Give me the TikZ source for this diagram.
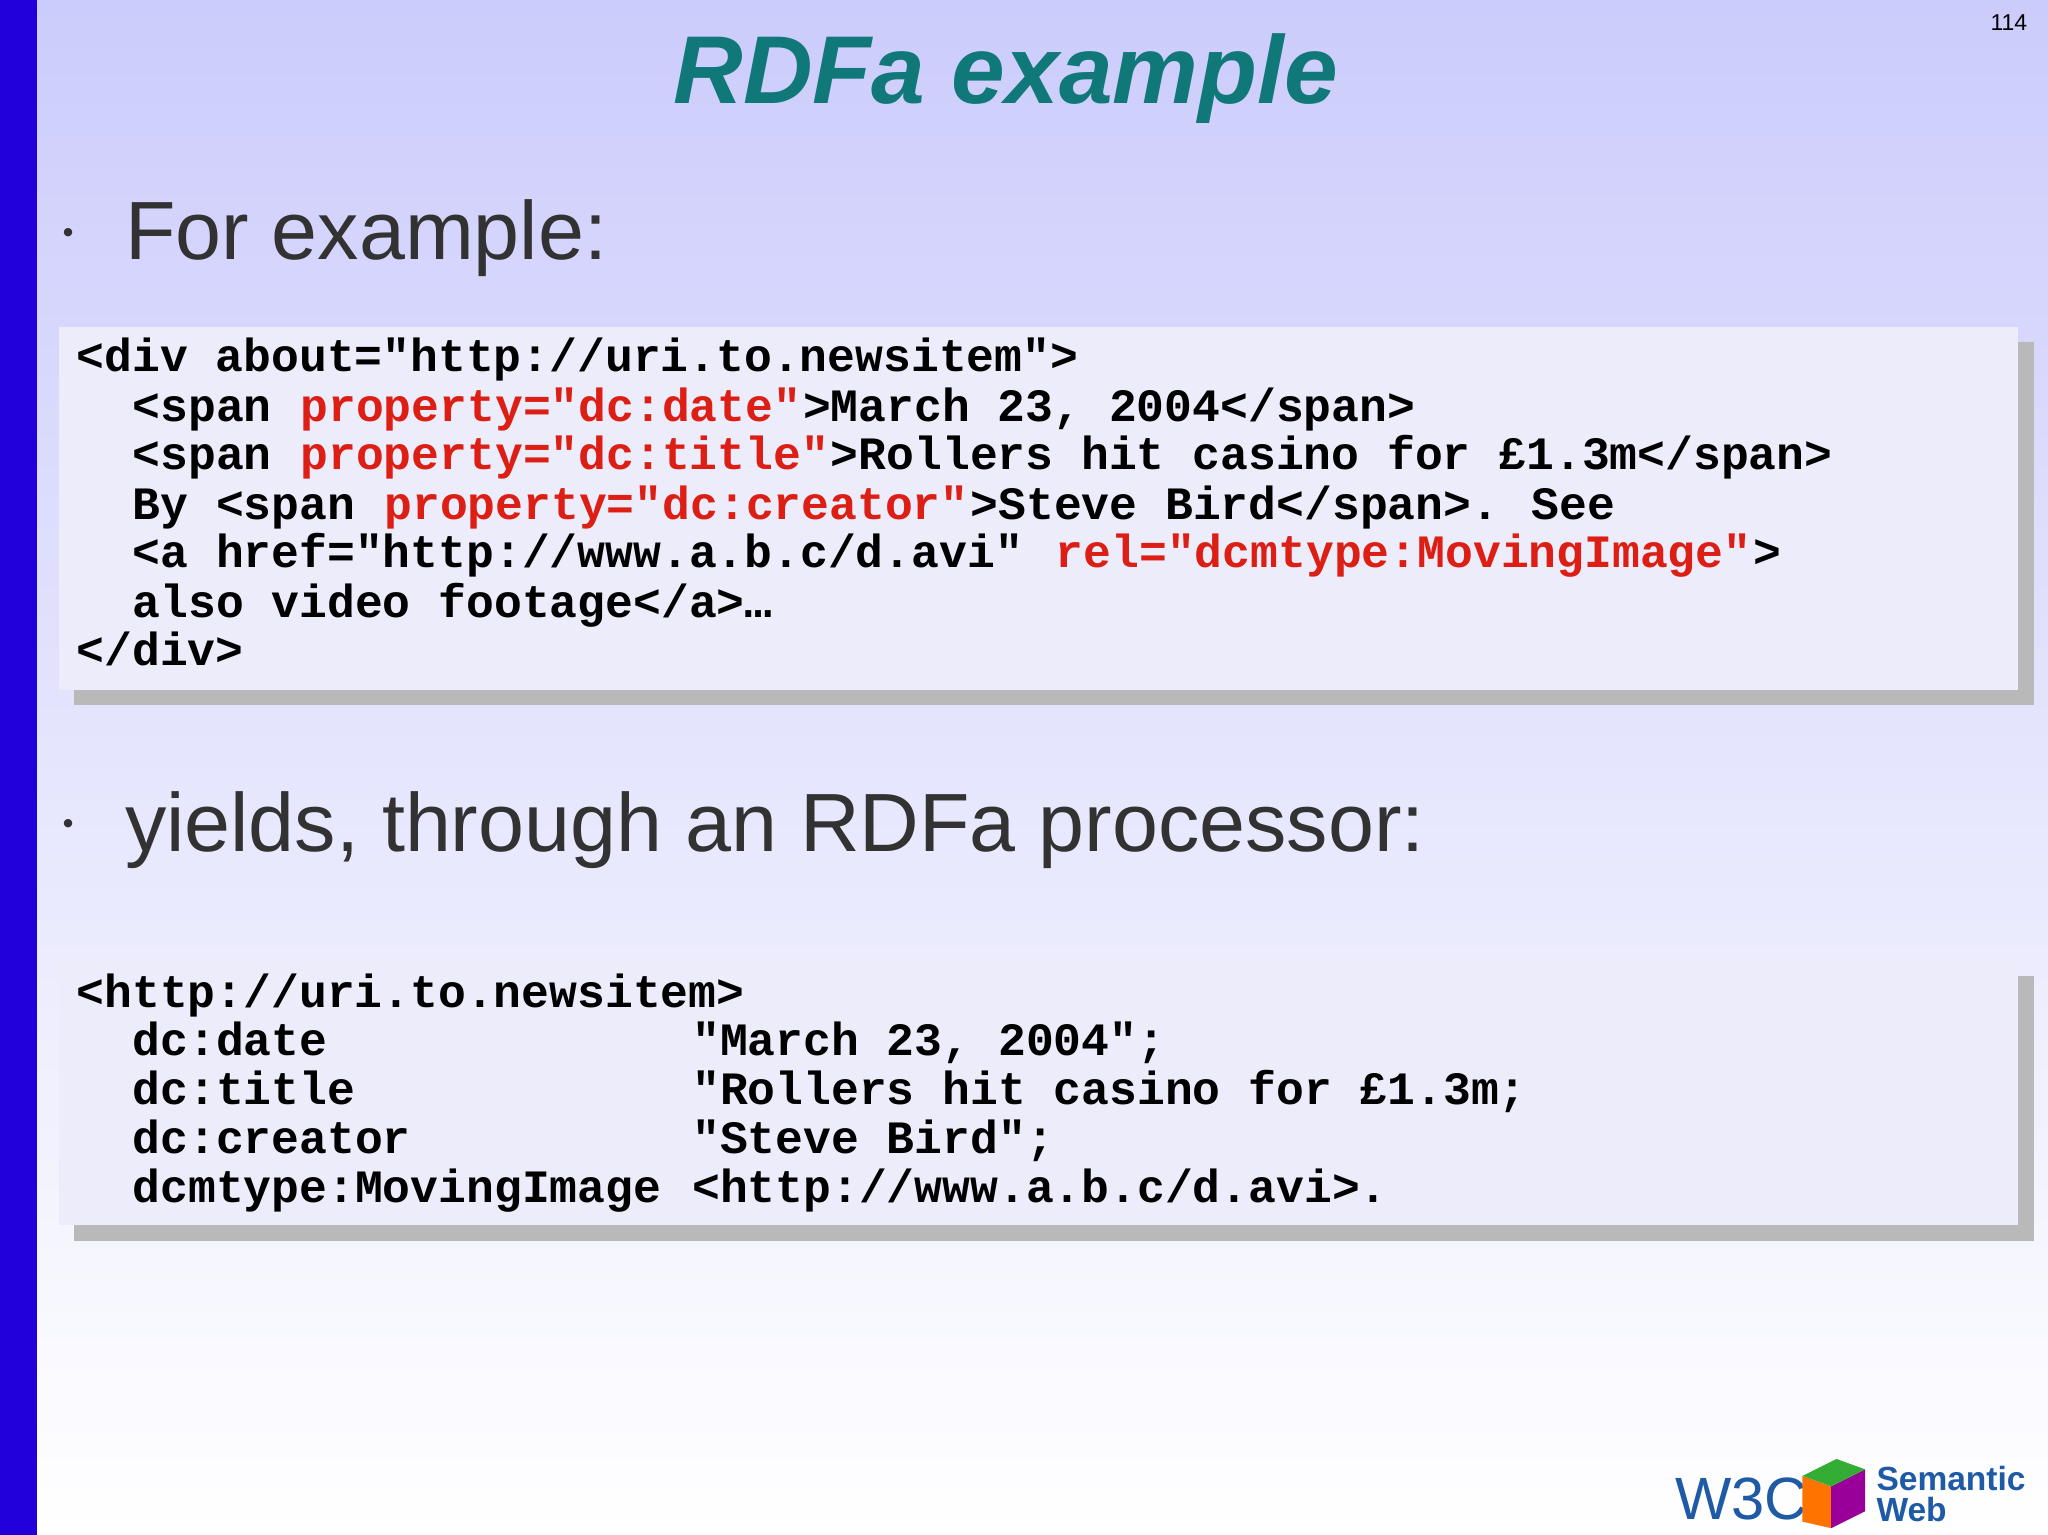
\documentclass[tikz,border=0pt]{standalone}
\usepackage{fontspec}
\setmainfont{Liberation Sans}
\newfontfamily\codefont{Liberation Mono}
\usetikzlibrary{positioning}
\definecolor{titleteal}{RGB}{16,120,120}
\definecolor{codered}{RGB}{220,30,20}
\definecolor{barblue}{RGB}{34,0,220}
\definecolor{boxfill}{RGB}{236,236,250}
\definecolor{w3blue}{RGB}{30,90,165}
\tikzset{
  code/.style={inner sep=0pt, anchor=west, text height=0.26cm, text depth=0.07cm,
    font=\codefont\fontsize{10.1pt}{12pt}\bfseries\selectfont},
  red/.style={code, text=codered},
  seg/.style={code, right=0pt of #1},
  bullet/.style={anchor=base west, inner sep=0pt, text={rgb,255:red,50;green,50;blue,50},
    font=\fontsize{18pt}{21pt}\selectfont}
}
\newcommand{\col}[1]{0.58+#1*0.2142}
\begin{document}
\begin{tikzpicture}
  \useasboundingbox (0,0) rectangle (15.68,11.75);
  % background
  \shade[top color={rgb,255:red,204;green,204;blue,252}, bottom color=white] (0,0) rectangle (15.68,11.75);
  \fill[barblue] (0,0) rectangle (0.28,11.75);
  \node (num) [font=\fontsize{5pt}{6pt}\selectfont] at (15.38,11.58) {114};
  \node (title) [text=titleteal, font=\fontsize{21pt}{24pt}\bfseries\itshape\selectfont] at (7.7,11.15) {RDFa example};
  \node (b1) [bullet] at (0.43,9.82) {$\cdot$};
  \node (t1) [bullet] at (0.95,9.76) {For example:};
  \node (b2) [bullet] at (0.43,5.29) {$\cdot$};
  \node (t2) [bullet] at (0.95,5.23) {yields, through an RDFa processor:};

  % first code box
  \fill[gray!55] (0.57,6.35) rectangle (15.57,9.13);
  \fill[boxfill] (0.45,6.47) rectangle (15.45,9.25);
  \node (a1) [code] at (\col{0},9.00) {<div about="http://uri.to.newsitem">};
  \node (a2) [code] at (\col{2},8.62) {<span};
  \node (a2r) [red] at (\col{8},8.62) {property="dc:date"};
  \node (a2e) [seg=a2r] {>March 23, 2004</span>};
  \node (a3) [code] at (\col{2},8.25) {<span};
  \node (a3r) [red] at (\col{8},8.25) {property="dc:title"};
  \node (a3e) [seg=a3r] {>Rollers hit casino for £1.3m</span>};
  \node (a4) [code] at (\col{2},7.87) {By <span};
  \node (a4r) [red] at (\col{11},7.87) {property="dc:creator"};
  \node (a4e) [seg=a4r] {>Steve Bird</span>.};
  \node (a4s) [code] at (\col{52},7.87) {See};
  \node (a5) [code] at (\col{2},7.50) {<a href="http://www.a.b.c/d.avi"};
  \node (a5r) [red] at (\col{35},7.50) {rel="dcmtype:MovingImage"};
  \node (a5e) [seg=a5r] {>};
  \node (a6) [code] at (\col{2},7.12) {also video footage</a>…};
  \node (a7) [code] at (\col{0},6.75) {</div>};

  % second code box
  \fill[gray!55] (0.57,2.25) rectangle (15.57,4.28);
  \fill[boxfill] (0.45,2.37) rectangle (15.45,4.40);
  \node (r1) [code] at (\col{0},4.13) {<http://uri.to.newsitem>};
  \node (r2) [code] at (\col{2},3.76) {dc:date};
  \node (r2v) [code] at (\col{22},3.76) {"March 23, 2004";};
  \node (r3) [code] at (\col{2},3.39) {dc:title};
  \node (r3v) [code] at (\col{22},3.39) {"Rollers hit casino for £1.3m;};
  \node (r4) [code] at (\col{2},3.01) {dc:creator};
  \node (r4v) [code] at (\col{22},3.01) {"Steve Bird";};
  \node (r5) [code] at (\col{2},2.64) {dcmtype:MovingImage};
  \node (r5v) [code] at (\col{22},2.64) {<http://www.a.b.c/d.avi>.};

  % logo
  \node (w3c) [anchor=base west, inner sep=0pt, text=w3blue,
    font=\fontsize{13pt}{14pt}\selectfont] at (12.82,0.12) {W3C};
  \fill[orange!90!red] (13.8,0.1) -- (13.8,0.45) -- (14.02,0.37) -- (14.02,0.05) -- cycle;
  \fill[violet!80!magenta] (14.02,0.05) -- (14.02,0.37) -- (14.28,0.5) -- (14.28,0.18) -- cycle;
  \fill[green!60!black!80] (13.8,0.45) -- (14.02,0.37) -- (14.28,0.5) -- (14.06,0.58) -- cycle;
  \node (sem) [anchor=base west, inner sep=0pt, text=w3blue,
    font=\fontsize{7.3pt}{8pt}\bfseries\selectfont] at (14.36,0.34) {Semantic};
  \node (web) [anchor=base west, inner sep=0pt, text=w3blue,
    font=\fontsize{7.3pt}{8pt}\bfseries\selectfont] at (14.36,0.1) {Web};
\end{tikzpicture}
\end{document}
